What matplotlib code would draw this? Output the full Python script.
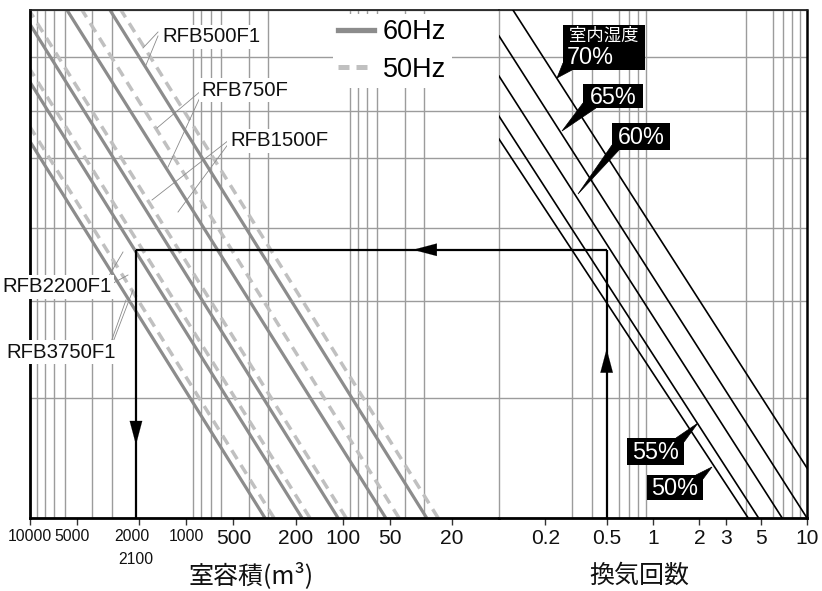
import numpy as np
import matplotlib
matplotlib.use('Agg')
import matplotlib.pyplot as plt
from matplotlib.lines import Line2D
from matplotlib.patches import Rectangle, Polygon
from matplotlib.ticker import LogLocator, FixedLocator, NullFormatter
from matplotlib import font_manager as fm
import matplotlib.transforms as mtransforms

# ---------------- data ----------------
vol_ticks = [10000, 5000, 2000, 1000, 500, 200, 100, 50, 20]
vol_tick_labels = ['10000', '5000', '2000', '1000', '500', '200', '100', '50', '20']
ach_ticks = [0.2, 0.5, 1, 2, 3, 5, 10]
ach_tick_labels = ['0.2', '0.5', '1', '2', '3', '5', '10']
level_grid = [0, 23.6, 42.7, 57.1, 70.9, 80.1, 90.75, 100]

models = ['RFB500F1', 'RFB750F', 'RFB1500F', 'RFB2200F1', 'RFB3750F1']
# room volume where each model line crosses level 0 (bottom) and level 100 (top)
hz60_vol_bottom = [29, 53, 107, 182, 314]
hz60_vol_top = [3080, 5800, 11400, 19400, 33500]
hz50_vol_bottom = [24.5, 43.6, 95, 162, 275]
hz50_vol_top = [2620, 4650, 10150, 17250, 29300]

humidity_labels = ['70%', '65%', '60%', '55%', '50%']
hum_ach_start = [0.1232, 0.1, 0.1, 0.1, 0.1]
hum_level_start = [100, 94.9, 87.0, 79.1, 74.6]
hum_ach_end = [10, 10, 6.9, 4.85, 4.15]
hum_level_end = [9.84, 0, 0, 0, 0]

example_ach = 0.5
example_volume = 2100
example_level = 52.8

# ---------------- fonts ----------------
avail = {f.name for f in fm.fontManager.ttflist}
HAS_NARROW = 'Liberation Sans Narrow' in avail
NARROW = 'Liberation Sans Narrow' if HAS_NARROW else 'Liberation Sans'
NSCALE = 1.0 if HAS_NARROW else 0.84
REG = 'Liberation Sans'
CJK = ['Noto Sans CJK JP', 'DejaVu Sans']

C60 = '#8c8c8c'
C50 = '#c0c0c0'
GRID = '#9c9c9c'

W, H = 822, 591
fig = plt.figure(figsize=(W / 100, H / 100), dpi=100)
X0, XM, X1 = 30, 499, 807
Y0, Y1 = 10, 518
axL = fig.add_axes([X0 / W, 1 - Y1 / H, (XM - X0) / W, (Y1 - Y0) / H])
axR = fig.add_axes([XM / W, 1 - Y1 / H, (X1 - XM) / W, (Y1 - Y0) / H])


def lf(px, py):
    return ((px - X0) / (XM - X0), (Y1 - py) / (Y1 - Y0))


def rf(px, py):
    return ((px - XM) / (X1 - XM), (Y1 - py) / (Y1 - Y0))


for ax, lim, ticks, labels in [(axL, (10000, 10), vol_ticks, vol_tick_labels),
                               (axR, (0.1, 10), ach_ticks, ach_tick_labels)]:
    ax.set_xscale('log')
    ax.set_xlim(*lim)
    ax.set_ylim(0, 100)
    ax.set_axisbelow(True)
    ax.xaxis.set_major_locator(FixedLocator(ticks))
    ax.xaxis.set_minor_locator(LogLocator(base=10, subs=np.arange(1, 10), numticks=100))
    ax.xaxis.set_minor_formatter(NullFormatter())
    ax.set_xticklabels(labels)
    ax.set_yticks(level_grid)
    ax.tick_params(axis='y', length=0, labelleft=False)
    ax.tick_params(axis='x', which='major', length=5, width=1.0, color='#333333',
                   direction='out', pad=3)
    ax.tick_params(axis='x', which='minor', length=0)
    ax.grid(True, axis='x', which='minor', color=GRID, lw=1.0)
    ax.grid(True, axis='y', which='major', color=GRID, lw=1.0)
    for lab in ax.get_xticklabels():
        t = lab.get_text()
        lab.set_fontfamily(NARROW)
        lab.set_color('#111111')
        if len(t) >= 4:
            lab.set_fontsize(13.5 * NSCALE)
        else:
            lab.set_fontsize(18 * NSCALE)
    ax.spines['bottom'].set_linewidth(2.0)
    ax.spines['top'].set_linewidth(1.3)
    ax.spines['top'].set_color('#222222')

axL.spines['right'].set_visible(False)
axR.spines['left'].set_visible(False)
axL.spines['left'].set_linewidth(2.0)
axR.spines['right'].set_linewidth(1.8)

# shift a few crowded labels slightly left
for lab in axL.get_xticklabels():
    if lab.get_text() in ('5000', '2000'):
        dx = -5 if lab.get_text() == '5000' else -7
        lab.set_transform(lab.get_transform() +
                          mtransforms.Affine2D().translate(dx, 0))

# ---------------- model lines ----------------
for i in range(len(models)):
    axL.plot([hz60_vol_bottom[i], hz60_vol_top[i]], [0, 100], color=C60,
             lw=2.3, solid_capstyle='butt', zorder=2.5)
    axL.plot([hz50_vol_bottom[i], hz50_vol_top[i]], [0, 100], color=C50,
             lw=2.5, dashes=(3.0, 2.0), zorder=2.5)

# ---------------- humidity lines ----------------
for i in range(len(humidity_labels)):
    axR.plot([hum_ach_start[i], hum_ach_end[i]], [hum_level_start[i], hum_level_end[i]],
             color='black', lw=1.2, zorder=3)

# ---------------- example path ----------------
kw = dict(color='black', lw=1.6, zorder=4, solid_capstyle='butt')
axR.plot([example_ach, example_ach], [0, example_level], **kw)
axR.plot([0.1, example_ach], [example_level, example_level], **kw)
axL.plot([10, example_volume], [example_level, example_level], **kw)
axL.plot([example_volume, example_volume], [example_level, 0], **kw)

ap = dict(arrowstyle='-|>,head_length=1.7,head_width=0.45', fc='black', ec='black',
          lw=0.1, shrinkA=0, shrinkB=0, mutation_scale=10)
axR.annotate('', xy=(example_ach, 33.3), xytext=(example_ach, 26.0),
             arrowprops=ap, zorder=5)
axL.annotate('', xy=(35.5, example_level), xytext=(22.0, example_level),
             arrowprops=ap, zorder=5)
axL.annotate('', xy=(example_volume, 14.4), xytext=(example_volume, 21.5),
             arrowprops=ap, zorder=5)

# ---------------- legend ----------------
h60 = Line2D([], [], color=C60, lw=3.8)
h50 = Line2D([], [], color=C50, lw=3.6, dashes=(2.2, 1.4))
leg = axL.legend([h60, h50], ['60Hz', '50Hz'], loc='upper left',
                 bbox_to_anchor=lf(333, 14), frameon=True, fancybox=False,
                 edgecolor='none', facecolor='white', framealpha=1,
                 prop=fm.FontProperties(family=REG, size=19.5),
                 handlelength=1.3, handletextpad=0.35, labelspacing=0.42,
                 borderpad=0.2, borderaxespad=0)
leg.set_zorder(6)

# ---------------- model labels & leaders ----------------
label_pos = [(211, 37), (245, 90), (279, 141), (57, 287), (61, 352)]
leaders = [
    [((158, 32), (143, 48)), ((158, 36), (146, 65))],
    [((202, 90), (157, 128)), ((202, 93), (168, 167))],
    [((229, 140), (152, 200)), ((229, 143), (178, 212))],
    [((106, 281), (123, 252)), ((106, 287), (128, 275))],
    [((110, 345), (126, 300)), ((110, 350), (133, 290))],
]
for name, (px, py), lds in zip(models, label_pos, leaders):
    axL.text(*lf(px, py), name, transform=axL.transAxes, ha='center', va='center',
             fontfamily=NARROW, fontsize=17.5 * NSCALE, color='#111111', zorder=7,
             clip_on=False,
             bbox=dict(boxstyle='square,pad=0.12', fc='white', ec='none'))
    for (a, b) in lds:
        pa, pb = lf(*a), lf(*b)
        axL.plot([pa[0], pb[0]], [pa[1], pb[1]], transform=axL.transAxes,
                 color='#8a8a8a', lw=0.6, zorder=6, clip_on=False)

# ---------------- humidity labels ----------------
boxes = [((563, 25), (645, 70)), ((583, 84), (643, 108)), ((612, 123), (670, 150)),
         ((627, 438), (684, 465)), ((647, 475), (703, 500))]
wedges = [[(563, 63), (572, 70), (557, 78)],
          [(583, 103), (596, 108), (562, 131)],
          [(612, 145), (619, 150), (578, 194)],
          [(676, 438), (684, 442), (698, 423)],
          [(696, 475), (703, 479), (712, 467)]]
for i, lab in enumerate(humidity_labels):
    (ax0, ay0), (ax1, ay1) = boxes[i]
    fx0, fy1 = rf(ax0, ay0)
    fx1, fy0 = rf(ax1, ay1)
    axR.add_patch(Rectangle((fx0, fy0), fx1 - fx0, fy1 - fy0, transform=axR.transAxes,
                            fc='black', ec='none', zorder=7, clip_on=False))
    axR.add_patch(Polygon([rf(*p) for p in wedges[i]], closed=True,
                          transform=axR.transAxes, fc='black', ec='black', lw=0.5,
                          zorder=7, clip_on=False))
    if i == 0:
        axR.text(*rf(604, 36), '室内湿度', transform=axR.transAxes, ha='center',
                 va='center', fontfamily=CJK, fontsize=12.5, color='white', zorder=8)
        axR.text(*rf(567, 58), lab, transform=axR.transAxes, ha='left', va='center',
                 fontfamily=NARROW, fontsize=20 * NSCALE, color='white', zorder=8)
    else:
        cx, cy = (ax0 + ax1) / 2, (ay0 + ay1) / 2
        axR.text(*rf(cx, cy + 1), lab, transform=axR.transAxes, ha='center',
                 va='center', fontfamily=NARROW, fontsize=20 * NSCALE, color='white',
                 zorder=8)

# ---------------- extra tick label & axis titles ----------------
axL.text(example_volume, (Y1 - 560) / (Y1 - Y0), '2100',
         transform=mtransforms.blended_transform_factory(axL.transData, axL.transAxes),
         ha='center', va='center', fontfamily=NARROW, fontsize=13.5 * NSCALE,
         color='#111111', clip_on=False)
axL.text(*lf(251, 576), '室容積(m³)', transform=axL.transAxes, ha='center',
         va='center', fontfamily=CJK, fontsize=18, color='#111111')
axR.text(*rf(639, 576), '換気回数', transform=axR.transAxes, ha='center',
         va='center', fontfamily=CJK, fontsize=18, color='#111111')

fig.savefig('out.png', dpi=100)
